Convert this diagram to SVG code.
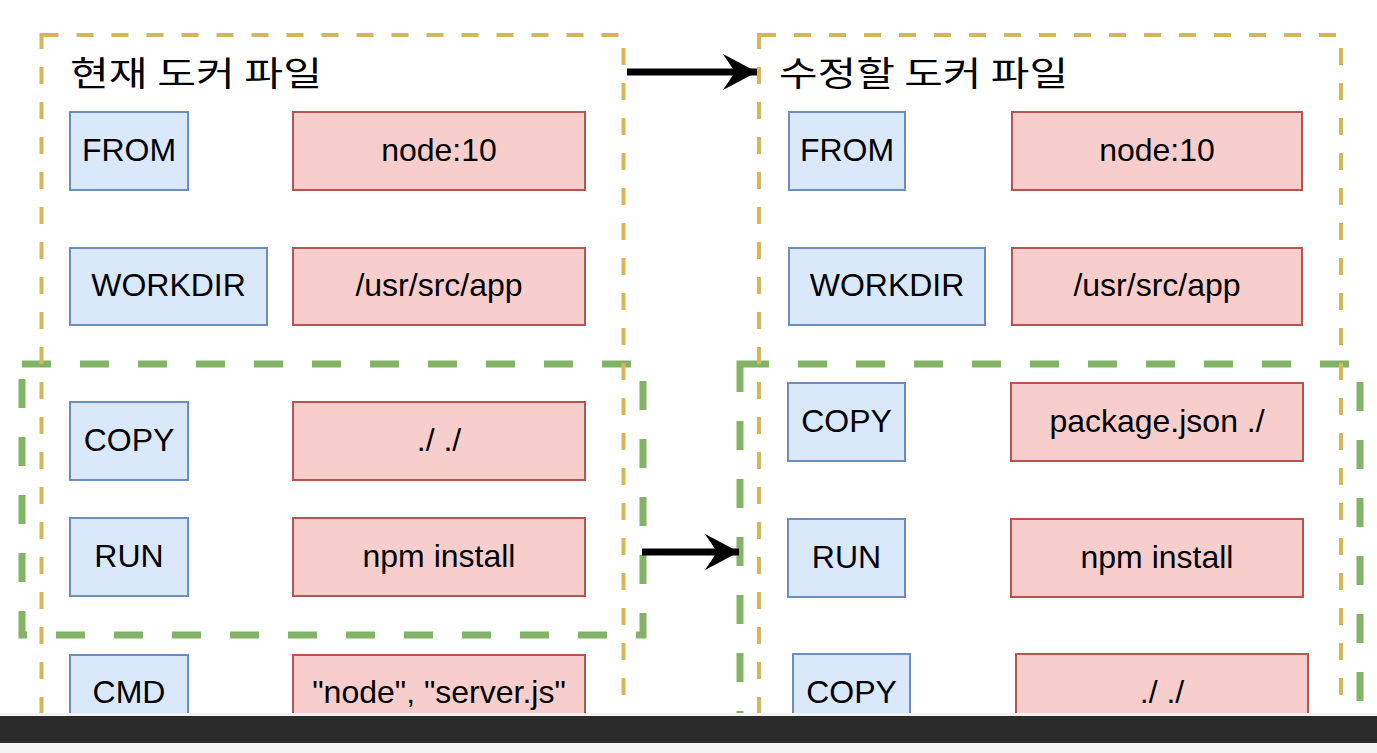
<svg xmlns="http://www.w3.org/2000/svg" width="1377" height="753" viewBox="0 0 1377 753">
<defs>
<style>
.blue{fill:#dae8fc;stroke:#6c8ebf;stroke-width:2}
.red{fill:#f8cecc;stroke:#b85450;stroke-width:2}
.t{font-family:"Liberation Sans",Arial,sans-serif;font-size:32px;fill:#000;text-anchor:middle}
.title{font-family:"Noto Sans CJK KR","Noto Sans",sans-serif;font-size:34px;fill:#000}
.yel{fill:none;stroke:#d6b656;stroke-width:4;stroke-dasharray:17 18}
.grn{fill:none;stroke:#82b366;stroke-width:7;stroke-dasharray:29 29}
.edge{stroke:#000;stroke-width:7;fill:none}
</style>
<marker id="arr" markerUnits="userSpaceOnUse" markerWidth="40" markerHeight="40" viewBox="0 0 40 40" refX="36" refY="20" orient="auto">
<path d="M36,20 L2,2 L14,20 L2,38 Z" fill="#000"/>
</marker>
</defs>
<rect width="1377" height="753" fill="#ffffff"/>

<g id="group-current-green">
<rect class="grn" x="22" y="364" width="621" height="271"/>
</g>
<g id="group-new-green">
<rect class="grn" x="740" y="364" width="620" height="380"/>
</g>
<g id="group-current">
<rect class="yel" x="41.5" y="35" width="582" height="720"/>
<text class="title" x="70" y="86" textLength="252" lengthAdjust="spacingAndGlyphs">현재 도커 파일</text>
</g>
<g id="group-new">
<rect class="yel" x="759" y="35" width="582" height="720"/>
<text class="title" x="779" y="86" textLength="289" lengthAdjust="spacingAndGlyphs">수정할 도커 파일</text>
</g>

<g id="connectors">
<line class="edge" x1="627" y1="72" x2="757" y2="72" marker-end="url(#arr)"/>
<line class="edge" x1="642" y1="552" x2="739" y2="552" marker-end="url(#arr)"/>
</g>

<g id="l-from"><rect class="blue" x="70" y="112" width="118" height="78"/><text class="t" x="129" y="161">FROM</text></g>
<g id="l-from-v"><rect class="red" x="293" y="112" width="292" height="78"/><text class="t" x="439" y="161">node:10</text></g>
<g id="l-workdir"><rect class="blue" x="70" y="248" width="197" height="77"/><text class="t" x="168.5" y="296">WORKDIR</text></g>
<g id="l-workdir-v"><rect class="red" x="293" y="248" width="292" height="77"/><text class="t" x="439" y="296">/usr/src/app</text></g>
<g id="l-copy"><rect class="blue" x="70" y="402" width="118" height="78"/><text class="t" x="129" y="451">COPY</text></g>
<g id="l-copy-v"><rect class="red" x="293" y="402" width="292" height="78"/><text class="t" x="439" y="451">./ ./</text></g>
<g id="l-run"><rect class="blue" x="70" y="518" width="118" height="78"/><text class="t" x="129" y="567">RUN</text></g>
<g id="l-run-v"><rect class="red" x="293" y="518" width="292" height="78"/><text class="t" x="439" y="567">npm install</text></g>
<g id="l-cmd"><rect class="blue" x="70" y="655" width="118" height="78"/><text class="t" x="129" y="703">CMD</text></g>
<g id="l-cmd-v"><rect class="red" x="293" y="655" width="292" height="78"/><text class="t" x="439" y="703">"node", "server.js"</text></g>

<g id="r-from"><rect class="blue" x="789" y="112" width="116" height="78"/><text class="t" x="847" y="161">FROM</text></g>
<g id="r-from-v"><rect class="red" x="1012" y="112" width="290" height="78"/><text class="t" x="1157" y="161">node:10</text></g>
<g id="r-workdir"><rect class="blue" x="789" y="248" width="196" height="77"/><text class="t" x="887" y="296">WORKDIR</text></g>
<g id="r-workdir-v"><rect class="red" x="1012" y="248" width="290" height="77"/><text class="t" x="1157" y="296">/usr/src/app</text></g>
<g id="r-copy"><rect class="blue" x="788" y="383" width="117" height="78"/><text class="t" x="846.5" y="432">COPY</text></g>
<g id="r-copy-v"><rect class="red" x="1011" y="383" width="292" height="78"/><text class="t" x="1157" y="432">package.json ./</text></g>
<g id="r-run"><rect class="blue" x="788" y="519" width="117" height="78"/><text class="t" x="846.5" y="568">RUN</text></g>
<g id="r-run-v"><rect class="red" x="1011" y="519" width="292" height="78"/><text class="t" x="1157" y="568">npm install</text></g>
<g id="r-copy2"><rect class="blue" x="793" y="654" width="117" height="78"/><text class="t" x="851.5" y="703">COPY</text></g>
<g id="r-copy2-v"><rect class="red" x="1016" y="654" width="292" height="78"/><text class="t" x="1162" y="703">./ ./</text></g>

<rect x="0" y="713" width="1377" height="4" fill="#f2f2f2"/>
<rect x="0" y="716" width="1377" height="27" fill="#2b2b2b"/>
<rect x="0" y="743" width="1377" height="10" fill="#f4f4f4"/>
</svg>
